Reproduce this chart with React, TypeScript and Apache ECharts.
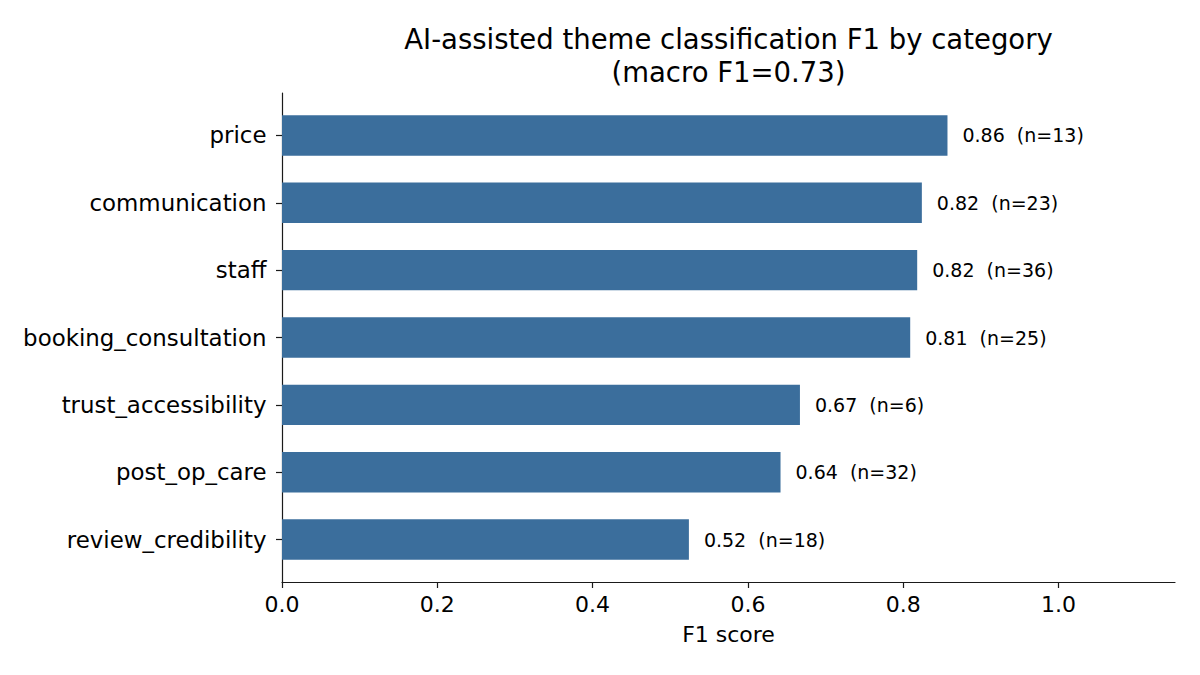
import React, { useEffect, useRef } from "react";
import * as echarts from "echarts";

const categories = [
  "price",
  "communication",
  "staff",
  "booking_consultation",
  "trust_accessibility",
  "post_op_care",
  "review_credibility",
];
const f1Values = [0.857, 0.824, 0.818, 0.809, 0.667, 0.642, 0.524];
const sampleCounts = [13, 23, 36, 25, 6, 32, 18];
const xTicks = [0, 0.2, 0.4, 0.6, 0.8, 1.0];
const titleText = "AI-assisted theme classification F1 by category\n(macro F1=0.73)";
const xAxisName = "F1 score";

const FONT = "DejaVu Sans";
const BAR_COLOR = "#3b6e9c";
const SPINE = "#1a1a1a";

export default function App() {
  const ref = useRef<HTMLDivElement>(null);

  useEffect(() => {
    if (!ref.current) return;
    const chart = echarts.init(ref.current, null, { renderer: "svg" });

    const left = 282;
    const right = 25;
    const spineTop = 93;
    const spineHeight = 489;
    const unit = spineHeight / 7.26;
    const barGridTop = spineTop + 0.13 * unit;
    const barGridHeight = 7 * unit;

    chart.setOption({
      animation: false,
      backgroundColor: "#ffffff",
      title: {
        text: titleText,
        left: 728.5,
        top: 22,
        textAlign: "center",
        padding: 0,
        textStyle: {
          fontFamily: FONT,
          fontSize: 27.5,
          fontWeight: "normal",
          color: "#000",
          lineHeight: 33,
        },
      },
      grid: [
        { left, right, top: barGridTop, height: barGridHeight },
        { left, right, top: spineTop, height: spineHeight },
      ],
      xAxis: [
        {
          gridIndex: 0,
          type: "value",
          min: 0,
          max: 1.15,
          show: false,
        },
        {
          gridIndex: 1,
          type: "value",
          min: 0,
          max: 1.15,
          name: xAxisName,
          nameLocation: "middle",
          nameGap: 41,
          nameTextStyle: { fontFamily: FONT, fontSize: 22, color: "#000" },
          axisLine: { show: true, lineStyle: { color: SPINE, width: 1.2 } },
          axisTick: {
            show: true,
            length: 6,
            lineStyle: { color: SPINE, width: 1.2 },
            customValues: xTicks,
          },
          axisLabel: {
            fontFamily: FONT,
            fontSize: 22,
            color: "#000",
            margin: 11,
            customValues: xTicks,
            formatter: (v: number) => v.toFixed(1),
          },
          splitLine: { show: false },
        },
      ],
      yAxis: [
        {
          gridIndex: 0,
          type: "category",
          data: categories,
          inverse: true,
          axisLine: { show: false },
          axisTick: {
            show: true,
            alignWithLabel: true,
            length: 6,
            lineStyle: { color: SPINE, width: 1.2 },
          },
          axisLabel: {
            fontFamily: FONT,
            fontSize: 22.9,
            color: "#000",
            margin: 15.5,
          },
          splitLine: { show: false },
        },
        {
          gridIndex: 1,
          type: "value",
          min: 0,
          max: 1,
          axisLine: { show: true, lineStyle: { color: SPINE, width: 1.2 } },
          axisTick: { show: false },
          axisLabel: { show: false },
          splitLine: { show: false },
        },
      ],
      series: [
        {
          type: "bar",
          xAxisIndex: 0,
          yAxisIndex: 0,
          data: f1Values,
          barWidth: "60%",
          itemStyle: { color: BAR_COLOR },
          label: {
            show: true,
            position: "right",
            distance: 15,
            fontFamily: FONT,
            fontSize: 19,
            color: "#000",
            formatter: (p: any) =>
              `${f1Values[p.dataIndex].toFixed(2)}  (n=${sampleCounts[p.dataIndex]})`,
          },
        },
      ],
    });

    return () => chart.dispose();
  }, []);

  return (
    <div
      ref={ref}
      style={{ position: "fixed", left: 0, top: 0, width: 1200, height: 675 }}
    />
  );
}
